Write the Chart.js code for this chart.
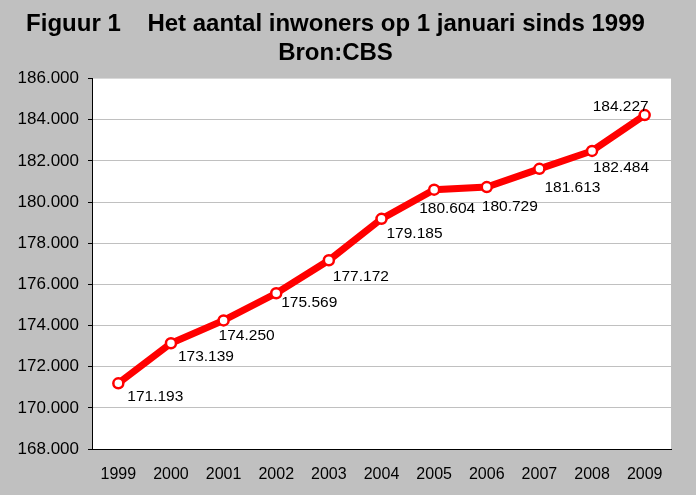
<!DOCTYPE html>
<html>
<head>
<meta charset="utf-8">
<script src="https://cdn.jsdelivr.net/npm/chart.js@4/dist/chart.umd.min.js"></script>
<style>
  html, body { margin: 0; padding: 0; background: #c0c0c0; }
  #wrap { width: 696px; height: 495px; }
</style>
</head>
<body>
<div id="wrap"><canvas id="chart" width="696" height="495"></canvas></div>
<script>
const years = ["1999", "2000", "2001", "2002", "2003", "2004", "2005", "2006", "2007", "2008", "2009"];
const inhabitants = [171193, 173139, 174250, 175569, 177172, 179185, 180604, 180729, 181613, 182484, 184227];
const yMin = 168000;
const yMax = 186000;
const yStep = 2000;

const fmt = (v) => v.toLocaleString("nl-NL");
const FONT = "'Liberation Sans', Arial, sans-serif";

// label nudges (dx to text start, dy to text middle), as placed in the original
const labelShift = [[9, 13], [7, 13], [-5, 15], [5, 9], [4, 16], [5, 15], [-15, 19], [-5, 20], [5, 19], [1, 17]];

// white plot area on the grey background
const plotBackground = {
  id: "plotBackground",
  beforeDraw(chart) {
    const { ctx, chartArea } = chart;
    ctx.save();
    ctx.fillStyle = "#ffffff";
    ctx.fillRect(chartArea.left, chartArea.top, chartArea.right - chartArea.left, chartArea.bottom - chartArea.top);
    ctx.restore();
  },
};

// value labels next to each point
const valueLabels = {
  id: "valueLabels",
  afterDatasetsDraw(chart) {
    const { ctx } = chart;
    const meta = chart.getDatasetMeta(0);
    ctx.save();
    ctx.font = "15.5px " + FONT;
    ctx.fillStyle = "#000000";
    ctx.textBaseline = "middle";
    meta.data.forEach((pt, i) => {
      const text = fmt(inhabitants[i]);
      if (i === inhabitants.length - 1) {
        // last one sits above the point
        ctx.textAlign = "right";
        ctx.fillText(text, pt.x + 4, pt.y - 8);
      } else {
        const [dx, dy] = labelShift[i];
        ctx.textAlign = "left";
        ctx.fillText(text, pt.x + dx, pt.y + dy);
      }
    });
    ctx.restore();
  },
};

new Chart(document.getElementById("chart"), {
  type: "line",
  data: {
    labels: years,
    datasets: [
      {
        data: inhabitants,
        borderColor: "#ff0000",
        borderWidth: 7,
        backgroundColor: "#ffffff",
        pointBackgroundColor: "#ffffff",
        pointBorderColor: "#ff0000",
        pointBorderWidth: 2.5,
        pointRadius: 5,
        tension: 0,
      },
    ],
  },
  options: {
    responsive: false,
    animation: false,
    layout: { padding: { left: 0, right: 25, top: 0, bottom: 0 } },
    plugins: {
      legend: { display: false },
      tooltip: { enabled: false },
      title: {
        display: true,
        text: ["Figuur 1    Het aantal inwoners op 1 januari sinds 1999", "Bron:CBS"],
        color: "#000000",
        font: { family: FONT, size: 24, weight: "bold" },
        lineHeight: 1.1,
        padding: { top: 10, bottom: 11 },
      },
    },
    scales: {
      x: {
        offset: true,
        grid: { display: false, drawTicks: false },
        border: { display: true, color: "#000000", width: 1 },
        ticks: {
          color: "#000000",
          padding: 16,
          font: { family: FONT, size: 16 },
        },
        afterFit: (scale) => { scale.height = 46; },
      },
      y: {
        min: yMin,
        max: yMax,
        grid: {
          color: (c) => (c.tick && c.tick.value === yMax ? "rgba(0,0,0,0)" : "#c0c0c0"),
          tickColor: "#000000",
          tickLength: 4,
        },
        border: { display: true, color: "#000000", width: 1 },
        ticks: {
          stepSize: yStep,
          color: "#000000",
          padding: 9,
          font: { family: FONT, size: 17 },
          callback: (v) => fmt(v),
        },
        afterFit: (scale) => { scale.width = 92; },
      },
    },
  },
  plugins: [plotBackground, valueLabels],
});
</script>
</body>
</html>
